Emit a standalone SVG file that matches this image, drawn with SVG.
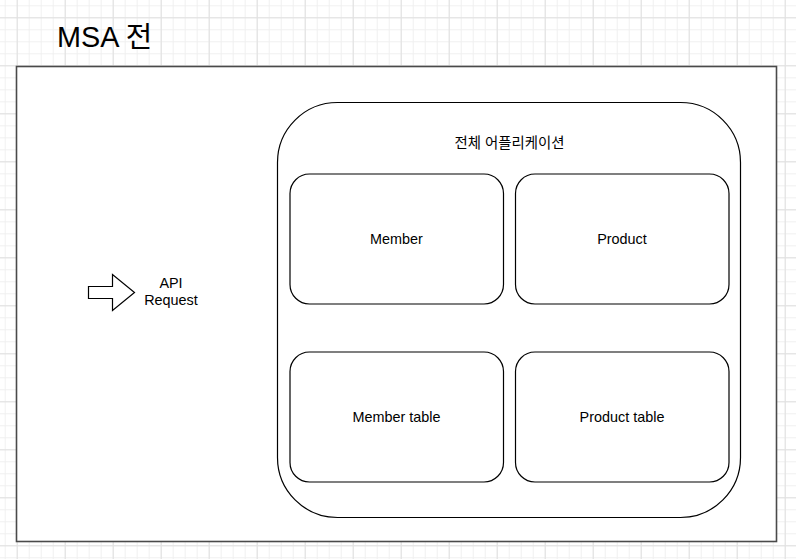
<svg xmlns="http://www.w3.org/2000/svg" width="796" height="559" viewBox="0 0 796 559">
<defs>
<pattern id="minor" x="4.7" y="5.3" width="12" height="12" patternUnits="userSpaceOnUse">
<path d="M0 0.5H12M0.5 0V12" fill="none" stroke="#f0f0f0" stroke-width="1"/>
</pattern>
<pattern id="major" x="16.7" y="17.3" width="48" height="48" patternUnits="userSpaceOnUse">
<path d="M0 0.5H48M0.5 0V48" fill="none" stroke="#e0e0e0" stroke-width="1"/>
</pattern>
</defs>
<style>
.box{fill:#fff;stroke:#000;stroke-width:1.2}
.lbl{font-family:"Liberation Sans",Arial,"Noto Sans CJK KR",sans-serif;font-size:14.4px;fill:#000;text-anchor:middle}
</style>
<rect width="796" height="559" fill="#fff"/>
<rect width="796" height="559" fill="url(#minor)"/>
<rect width="796" height="559" fill="url(#major)"/>
<text x="57" y="47" style="font-family:'Liberation Sans',Arial,'Noto Sans CJK KR',sans-serif;font-size:28.8px;fill:#000">MSA 전</text>
<g id="frame">
<rect x="16.5" y="66.5" width="760" height="475" fill="#fff" stroke="#4a4a4a" stroke-width="1.6"/>
</g>
<g id="api-request">
<path d="M88.5 286.5H112.5V274.5L134.5 292.5L112.5 310.5V298.5H88.5Z" fill="#fff" stroke="#000" stroke-width="1.2"/>
<text class="lbl"><tspan x="171" y="288">API</tspan><tspan x="171" y="305.3">Request</tspan></text>
</g>
<g id="application">
<rect class="box" x="277.5" y="102.5" width="463" height="415" rx="60" ry="60"/>
<text class="lbl" x="509.5" y="148">전체 어플리케이션</text>
</g>
<g id="member">
<rect class="box" x="290" y="174" width="213.5" height="130" rx="19.5" ry="19.5"/>
<text class="lbl" x="396.5" y="244">Member</text>
</g>
<g id="product">
<rect class="box" x="515.5" y="174" width="213.5" height="130" rx="19.5" ry="19.5"/>
<text class="lbl" x="622" y="244">Product</text>
</g>
<g id="member-table">
<rect class="box" x="290" y="352" width="213.5" height="130" rx="19.5" ry="19.5"/>
<text class="lbl" x="396.5" y="422">Member table</text>
</g>
<g id="product-table">
<rect class="box" x="515.5" y="352" width="213.5" height="130" rx="19.5" ry="19.5"/>
<text class="lbl" x="622" y="422">Product table</text>
</g>
<g id="connectors"></g>
</svg>
